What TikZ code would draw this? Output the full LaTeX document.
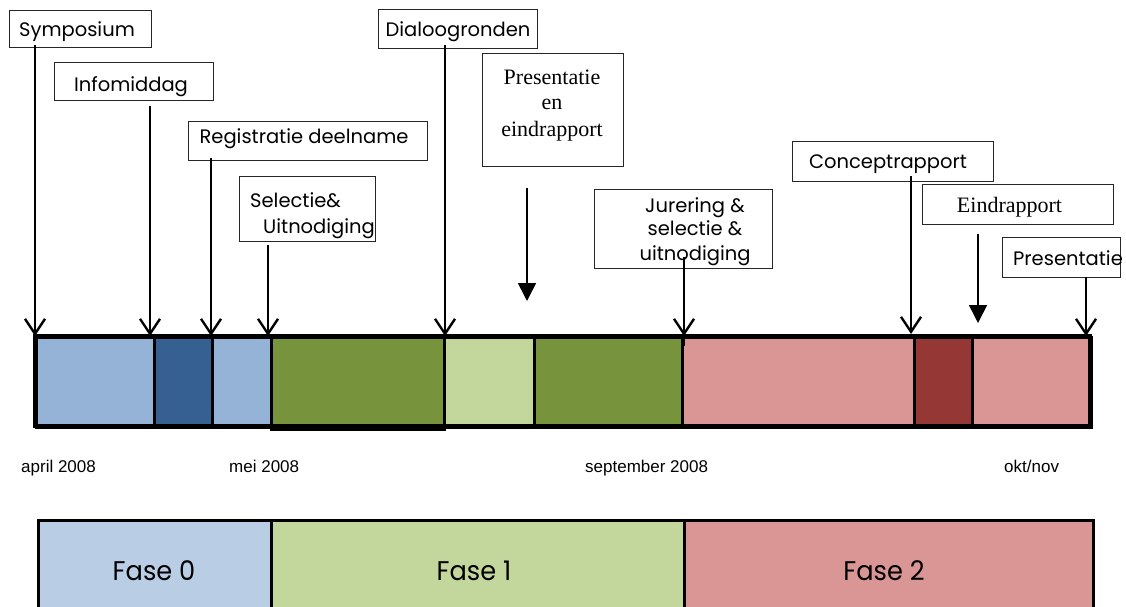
\documentclass[tikz,border=0pt]{standalone}
\usepackage{fontspec}
\setmainfont{Poppins}
\newfontfamily\arialF{Liberation Sans}
\newfontfamily\serifF{Liberation Serif}
\usetikzlibrary{arrows.meta}
\definecolor{lblue}{HTML}{95B3D7}
\definecolor{dblue}{HTML}{366092}
\definecolor{dgreen}{HTML}{77933C}
\definecolor{lgreen}{HTML}{C3D69B}
\definecolor{pink}{HTML}{D99694}
\definecolor{dred}{HTML}{953735}
\definecolor{pblue}{HTML}{B9CDE5}
\begin{document}
\begin{tikzpicture}[x=1pt,y=-1pt,
  box/.style={draw=black!85, line width=0.9pt, fill=white, inner sep=0pt},
  txt/.style={inner sep=0pt, anchor=base, font=\fontsize{19.5}{22}\selectfont},
  txtl/.style={txt, anchor=base west},
  stxt/.style={inner sep=0pt, anchor=base, font=\serifF\fontsize{22}{25}\selectfont},
  seg/.style={draw=black, line width=2.5pt, inner sep=0pt, anchor=north west, minimum height=90pt},
  phase/.style={draw=black, line width=3pt, inner sep=0pt, anchor=north west, minimum height=100pt},
  phtxt/.style={inner sep=0pt, anchor=base, font=\fontsize{27}{30}\selectfont, xscale=0.95},
  date/.style={inner sep=0pt, anchor=base west, font=\arialF\fontsize{17}{19}\selectfont},
  bigarrow/.style={line width=2.6pt, -{Straight Barb[length=15pt,width=20pt,line width=2.4pt]}},
  thinarrow/.style={line width=1.6pt, -{Triangle[length=18pt,width=18pt]}}
]
\useasboundingbox (0,0) rectangle (1126,607);

% bottom phase bar
\node[phase, fill=pblue, minimum width=233pt] (f0) at (37,519) {};
\node[phase, fill=lgreen, minimum width=413pt] (f1) at (270,519) {};
\node[phase, fill=pink, minimum width=409pt] (f2) at (683,519) {};
\node[phtxt] (t0) at (154,580) {Fase 0};
\node[phtxt] (t1) at (474,580) {Fase 1};
\node[phtxt] (t2) at (884,580) {Fase 2};

% top timeline bar
\node[seg, fill=lblue, minimum width=118pt] (s1) at (35,336) {};
\node[seg, fill=dblue, minimum width=58pt] (s2) at (153,336) {};
\node[seg, fill=lblue, minimum width=59pt] (s3) at (211,336) {};
\node[seg, fill=dgreen, minimum width=173pt, minimum height=92pt] (s4) at (270,336) {};
\node[seg, fill=lgreen, minimum width=90pt] (s5) at (443,336) {};
\node[seg, fill=dgreen, minimum width=148pt] (s6) at (533,336) {};
\node[seg, fill=pink, minimum width=232pt] (s7) at (681,336) {};
\node[seg, fill=dred, minimum width=58pt] (s8) at (913,336) {};
\node[seg, fill=pink, minimum width=119pt] (s9) at (971,336) {};
\draw[line width=3.5pt] (35,336) rectangle (1090,426);

% dates
\node[date] (d1) at (21,472) {april 2008};
\node[date] (d2) at (229,472) {mei 2008};
\node[date] (d3) at (585,472) {september 2008};
\node[date] (d4) at (1004,472) {okt/nov};

% label boxes
\node[box, minimum width=142pt, minimum height=37pt] (b1) at (80,28.5) {};
\node[txt] (t1a) at (77,37) {Symposium};
\node[box, minimum width=159pt, minimum height=38pt] (b2) at (133.5,81) {};
\node[txt] (t2a) at (131,92) {Infomiddag};
\node[box, minimum width=239pt, minimum height=39pt] (b3) at (307.5,140.5) {};
\node[txt] (t3a) at (304,143) {Registratie deelname};
\node[box, minimum width=136pt, minimum height=65pt] (b4) at (307,208.5) {};
\node[txtl] (t4a) at (250,207) {Selectie\&};
\node[txtl] (t4b) at (263,233) {Uitnodiging};
\node[box, minimum width=159pt, minimum height=39pt] (b5) at (457.5,28.5) {};
\node[txt] (t5a) at (458,37) {Dialoogronden};
\node[box, minimum width=141pt, minimum height=113pt] (b6) at (552.5,109.5) {};
\node[stxt] (t6a) at (552,85) {Presentatie};
\node[stxt] (t6b) at (552,110) {en};
\node[stxt] (t6c) at (552,136) {eindrapport};
\node[box, minimum width=178pt, minimum height=79pt] (b7) at (683,228.5) {};
\node[txt] (t7a) at (695,212) {Jurering \&};
\node[txt] (t7b) at (695,235) {selectie \&};
\node[txt] (t7c) at (695,260) {uitnodiging};
\node[box, minimum width=201pt, minimum height=40pt] (b8) at (892.5,161) {};
\node[txt] (t8a) at (888,168) {Conceptrapport};
\node[box, minimum width=191pt, minimum height=40pt] (b9) at (1017.5,204) {};
\node[stxt] (t9a) at (1009.5,212) {Eindrapport};
\node[box, minimum width=118pt, minimum height=40pt] (b10) at (1061,257) {};
\node[txt] (t10a) at (1068,265) {Presentatie};

% arrow coordinates
\coordinate (a1s) at (35,45);   \coordinate (a1e) at (35,336);
\coordinate (a2s) at (150,106); \coordinate (a2e) at (150,336);
\coordinate (a3s) at (211,158); \coordinate (a3e) at (211,336);
\coordinate (a4s) at (268,245); \coordinate (a4e) at (268,336);
\coordinate (a5s) at (445,45);  \coordinate (a5e) at (445,336);
\coordinate (a6s) at (527,188); \coordinate (a6e) at (527,301);
\coordinate (a7s) at (684,257); \coordinate (a7e) at (684,336);
\coordinate (a8s) at (911,176); \coordinate (a8e) at (911,334);
\coordinate (a9s) at (978,234); \coordinate (a9e) at (978,323);
\coordinate (a10s) at (1086,277); \coordinate (a10e) at (1086,336);

\draw[bigarrow] (a1s) -- (a1e);
\draw[bigarrow] (a2s) -- (a2e);
\draw[bigarrow] (a3s) -- (a3e);
\draw[bigarrow] (a4s) -- (a4e);
\draw[bigarrow] (a5s) -- (a5e);
\draw[thinarrow] (a6s) -- (a6e);
\draw[bigarrow] (a7s) -- (a7e);
\draw[line width=2.6pt] (a7e) -- ++(0,10);
\draw[bigarrow] (a8s) -- (a8e);
\draw[thinarrow] (a9s) -- (a9e);
\draw[bigarrow] (a10s) -- (a10e);
\end{tikzpicture}
\end{document}
